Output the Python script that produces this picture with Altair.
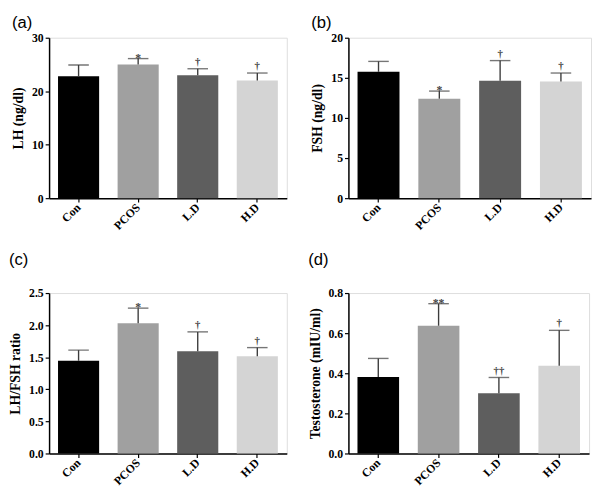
import altair as alt
import pandas as pd

groups = ["Con", "PCOS", "L.D", "H.D"]
colors = ["#000000", "#a0a0a0", "#5e5e5e", "#d4d4d4"]

lh_mean = [22.8, 25.0, 23.0, 22.0]
lh_upper = [24.9, 26.1, 24.2, 23.4]
fsh_mean = [15.75, 12.4, 14.65, 14.55]
fsh_upper = [17.05, 13.35, 17.15, 15.6]
ratio_mean = [1.445, 2.03, 1.595, 1.515]
ratio_upper = [1.61, 2.265, 1.895, 1.65]
testo_mean = [0.382, 0.637, 0.300, 0.437]
testo_upper = [0.474, 0.747, 0.379, 0.614]

star_a = ["", "*", "", ""]
dag_a = ["", "", "†", "†"]
star_d = ["", "**", "", ""]
dag_d = ["", "", "††", "†"]

ticks_a = [0, 10, 20, 30]
ticks_b = [0, 5, 10, 15, 20]
ticks_c = [0, 0.5, 1.0, 1.5, 2.0, 2.5]
ticks_d = [0, 0.2, 0.4, 0.6, 0.8]

SERIF = "Liberation Serif"
SANS = "Liberation Sans"


def panel(label, ytitle, means, uppers, stars, dags, ticks, fmt, width, toff):
    df = pd.DataFrame({
        "group": groups,
        "mean": means,
        "upper": uppers,
        "star": stars,
        "dag": dags,
    })
    ymax = ticks[-1]
    xenc = alt.X(
        "group:N",
        sort=groups,
        title=None,
        scale=alt.Scale(paddingInner=0.31, paddingOuter=0.15),
        axis=alt.Axis(
            labelAngle=-45,
            labelAlign="right",
            labelBaseline="middle",
            labelFont=SERIF,
            labelFontWeight="bold",
            labelFontSize=12,
            labelColor="#000",
            labelPadding=3,
            tickSize=4,
            tickColor="#000",
            domainColor="#000",
            domainWidth=1.5,
            tickWidth=1.2,
        ),
    )
    yscale = alt.Scale(domain=[0, ymax], nice=False)
    yaxis = alt.Axis(
        values=ticks,
        format=fmt,
        grid=False,
        labelOverlap=False,
        labelFont=SERIF,
        labelFontWeight="bold",
        labelFontSize=12,
        labelColor="#000",
        titleFont=SERIF,
        titleFontWeight="bold",
        titleFontSize=14,
        titleColor="#000",
        titlePadding=6,
        tickSize=4,
        tickColor="#000",
        tickWidth=1.2,
        domainColor="#000",
        domainWidth=1.5,
    )
    base = alt.Chart(df)
    bars = base.mark_bar().encode(
        x=xenc,
        y=alt.Y("mean:Q", scale=yscale, title=ytitle, axis=yaxis),
        color=alt.Color("group:N", scale=alt.Scale(domain=groups, range=colors), legend=None),
    )
    rule = base.mark_rule(color="#3c3c3c", strokeWidth=1.4).encode(
        x=xenc,
        y=alt.Y("mean:Q", scale=yscale, title=ytitle, axis=yaxis),
        y2="upper:Q",
    )
    cap = base.mark_tick(color="#3c3c3c", thickness=1.4, size=21).encode(
        x=xenc,
        y=alt.Y("upper:Q", scale=yscale, title=ytitle, axis=yaxis),
    )
    star = base.mark_text(
        font=SERIF, fontSize=12, fontWeight="bold", color="#444", baseline="alphabetic", dy=3
    ).encode(
        x=xenc,
        y=alt.Y("upper:Q", scale=yscale, title=ytitle, axis=yaxis),
        text="star:N",
    )
    dag = base.mark_text(
        font=SERIF, fontSize=11, fontWeight="bold", color="#444", baseline="alphabetic", dy=-4
    ).encode(
        x=xenc,
        y=alt.Y("upper:Q", scale=yscale, title=ytitle, axis=yaxis),
        text="dag:N",
    )
    return alt.layer(bars, rule, cap, star, dag).properties(
        width=width,
        height=164,
        title=alt.TitleParams(
            label,
            anchor="start",
            frame="bounds",
            font=SANS,
            fontSize=17,
            fontWeight="normal",
            color="#000",
            offset=toff,
        ),
    )


pa = panel("(a)", "LH (ng/dl)", lh_mean, lh_upper, star_a, dag_a, ticks_a, "d", 243, 0)
pb = panel("(b)", "FSH (ng/dl)", fsh_mean, fsh_upper, star_a, dag_a, ticks_b, "d", 248, 0)
pc = panel("(c)", "LH/FSH ratio", ratio_mean, ratio_upper, star_a, dag_a, ticks_c, ".1f", 243, 19)
pd_ = panel("(d)", "Testosterone (mIU/ml)", testo_mean, testo_upper, star_d, dag_d, ticks_d, ".1f", 246, 19)

chart = alt.concat(pa, pb, pc, pd_, columns=2, spacing=alt.RowColnumber(row=18, column=20)).properties(
    padding={"left": 0, "top": 0, "right": 0, "bottom": 0}
).configure_view(stroke=None).configure(background="white")

chart.save("out.html", embed_options={"renderer": "svg", "actions": False})
